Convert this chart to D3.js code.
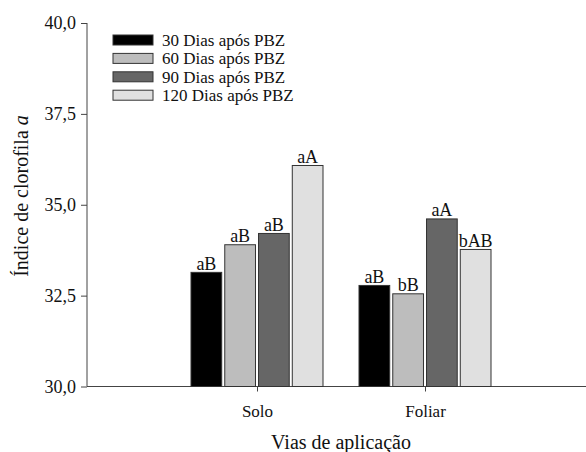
<!DOCTYPE html>
<html>
<head>
<meta charset="utf-8">
<script src="https://cdn.jsdelivr.net/npm/d3@7"></script>
<style>
  body { margin: 0; background: #fff; }
  svg text { font-family: "Liberation Serif", "Times New Roman", serif; fill: #111; }
  .axis path, .axis line { stroke: #444; }
</style>
</head>
<body>
<svg width="586" height="452"></svg>
<script>
// data
var categories = ["Solo", "Foliar"];
var series = ["30 Dias após PBZ", "60 Dias após PBZ", "90 Dias após PBZ", "120 Dias após PBZ"];
var values = {
  "Solo":   [33.14, 33.90, 34.21, 36.08],
  "Foliar": [32.78, 32.55, 34.61, 33.77]
};
var letters = {
  "Solo":   ["aB", "aB", "aB", "aA"],
  "Foliar": ["aB", "bB", "aA", "bAB"]
};
var yTicks = [30, 32.5, 35, 37.5, 40];
var colors = ["#000000", "#bdbdbd", "#666666", "#e0e0e0"];

var svg = d3.select("svg");

var x = d3.scalePoint().domain(categories).range([89, 593]).padding(1);
var y = d3.scaleLinear().domain([30, 40]).range([386.5, 23]);
var inner = d3.scaleBand().domain(d3.range(series.length)).range([-66, 66]).paddingInner(0.09);

var fmt = function (d) { return d3.format(".1f")(d).replace(".", ","); };

// y axis
var yAxis = svg.append("g")
    .attr("class", "axis")
    .attr("transform", "translate(87,0)")
    .call(d3.axisLeft(y).tickValues(yTicks).tickFormat(fmt).tickSize(6).tickPadding(5));
yAxis.select(".domain").attr("d", "M0," + y(40) + "V" + y(30));
yAxis.selectAll("text").style("font-size", "18px");

// x axis
var xAxis = svg.append("g")
    .attr("class", "axis")
    .attr("transform", "translate(0," + y(30) + ")")
    .call(d3.axisBottom(x).tickSize(5).tickPadding(13));
xAxis.select(".domain").attr("d", "M87,0H586");
xAxis.selectAll("text").style("font-size", "17px");

// bars
var groups = svg.selectAll(".grp")
    .data(categories)
    .enter().append("g")
    .attr("class", "grp")
    .attr("transform", function (c) { return "translate(" + x(c) + ",0)"; });

groups.selectAll("rect")
    .data(function (c) { return values[c].map(function (v, i) { return {v: v, i: i, c: c}; }); })
    .enter().append("rect")
    .attr("x", function (d) { return inner(d.i); })
    .attr("y", function (d) { return y(d.v); })
    .attr("width", inner.bandwidth())
    .attr("height", function (d) { return y(30) - y(d.v); })
    .attr("fill", function (d) { return colors[d.i]; })
    .attr("stroke", "#333")
    .attr("stroke-width", 1);

groups.selectAll(".lbl")
    .data(function (c) { return values[c].map(function (v, i) { return {v: v, i: i, c: c}; }); })
    .enter().append("text")
    .attr("class", "lbl")
    .attr("x", function (d) { return inner(d.i) + inner.bandwidth() / 2; })
    .attr("y", function (d) { return y(d.v) - 2.5; })
    .attr("text-anchor", "middle")
    .style("font-size", "18px")
    .text(function (d) { return letters[d.c][d.i]; });

// legend
var legend = svg.append("g").attr("transform", "translate(113,35)");
var item = legend.selectAll("g")
    .data(series)
    .enter().append("g")
    .attr("transform", function (d, i) { return "translate(0," + (i * 18.4) + ")"; });
item.append("rect")
    .attr("width", 40)
    .attr("height", 10)
    .attr("fill", function (d, i) { return colors[i]; })
    .attr("stroke", "#333");
item.append("text")
    .attr("x", 49)
    .attr("y", 11)
    .style("font-size", "17px")
    .text(function (d) { return d; });

// axis titles
svg.append("text")
    .attr("transform", "translate(28,196) rotate(-90)")
    .attr("text-anchor", "middle")
    .style("font-size", "20px")
    .html("Índice de clorofila <tspan font-style='italic'>a</tspan>");

svg.append("text")
    .attr("x", 341)
    .attr("y", 449)
    .attr("text-anchor", "middle")
    .style("font-size", "20px")
    .text("Vias de aplicação");
</script>
</body>
</html>
